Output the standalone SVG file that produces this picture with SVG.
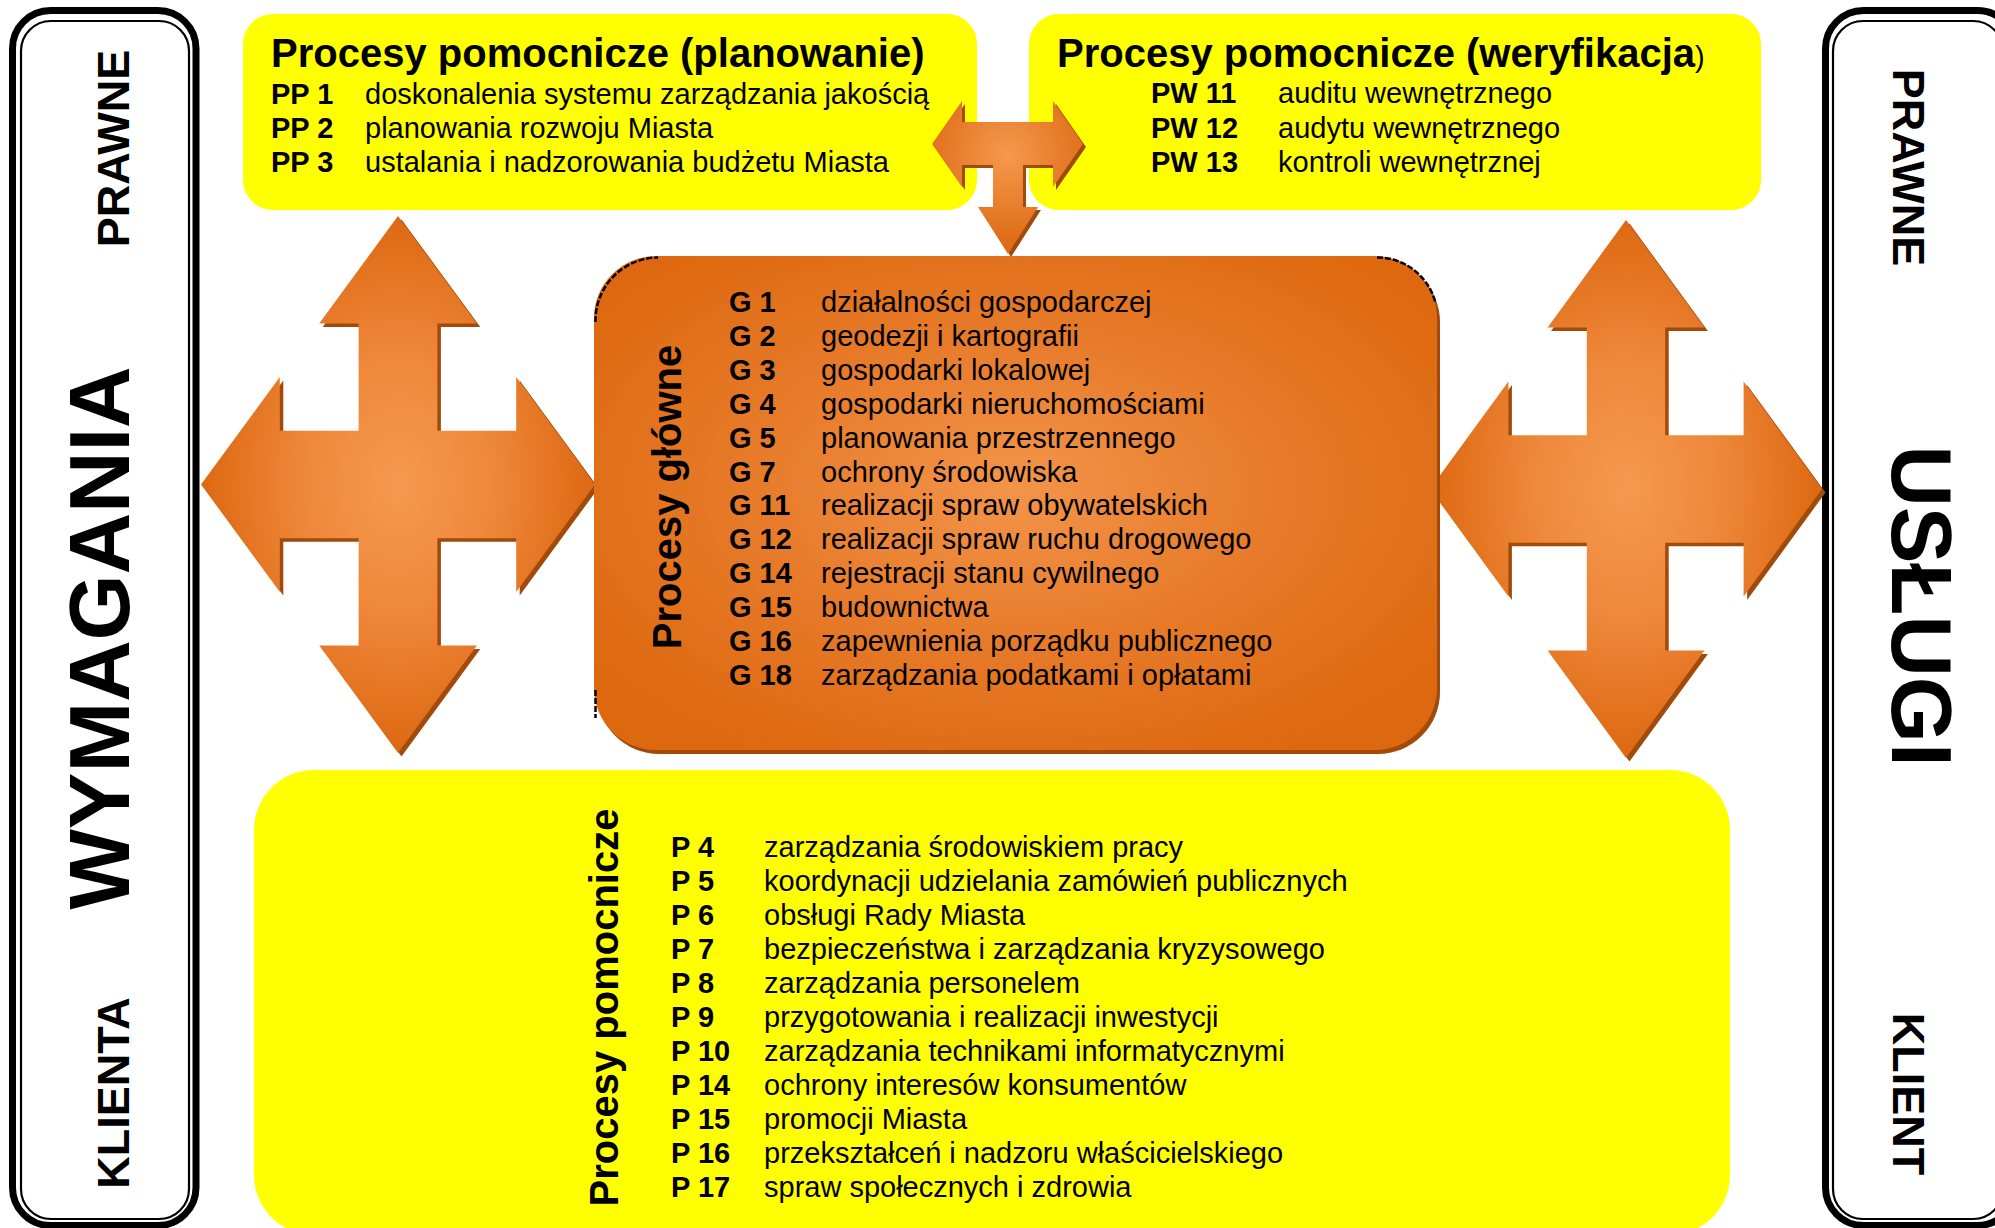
<svg xmlns="http://www.w3.org/2000/svg" xmlns:xlink="http://www.w3.org/1999/xlink" width="1995" height="1228" viewBox="0 0 1995 1228">
<style>
  text { font-family: "Liberation Sans", Arial, sans-serif; fill: #000; }
  .title { font-size: 40px; font-weight: bold; }
  .code { font-size: 29px; font-weight: bold; }
  .item { font-size: 29px; }
  .vt { font-size: 40px; font-weight: bold; text-anchor: middle; }
  .side { font-size: 45px; font-weight: bold; text-anchor: middle; }
  .sideBig { font-size: 85px; font-weight: bold; text-anchor: middle; }
  .yellow { fill: #FFFF00; }
  .shadow { fill: #A04A0C; }
  .frameOuter { fill: #FFFFFF; stroke: #000; stroke-width: 7; }
  .frameInner { fill: none; stroke: #000; stroke-width: 2.2; }
  .artifact { fill: none; stroke: #000; stroke-width: 2.5; stroke-dasharray: 6 2; }
</style>
<defs>
  <radialGradient id="gArrow" cx="0.5" cy="0.5" r="0.5">
    <stop offset="0" stop-color="#F5994E"/>
    <stop offset="0.5" stop-color="#EE8739"/>
    <stop offset="1" stop-color="#DD6811"/>
  </radialGradient>
  <radialGradient id="gBox" cx="0.5" cy="0.47" r="0.62">
    <stop offset="0" stop-color="#F39449"/>
    <stop offset="0.5" stop-color="#E77B2A"/>
    <stop offset="1" stop-color="#DD680F"/>
  </radialGradient>
  <radialGradient id="gT" cx="0.5" cy="0.35" r="0.6">
    <stop offset="0" stop-color="#F5994E"/>
    <stop offset="1" stop-color="#DE6A14"/>
  </radialGradient>
  <polygon id="quad" points="0.5,0 0.7,0.2 0.6,0.2 0.6,0.4 0.8,0.4 0.8,0.3 1,0.5 0.8,0.7 0.8,0.6 0.6,0.6 0.6,0.8 0.7,0.8 0.5,1 0.3,0.8 0.4,0.8 0.4,0.6 0.2,0.6 0.2,0.7 0,0.5 0.2,0.3 0.2,0.4 0.4,0.4 0.4,0.2 0.3,0.2"/>
  <polygon id="tshape" points="932,144 962,101 962,122 1053,122 1053,101 1083,144 1053,187 1053,165 1023,165 1023,207 1038,207 1008,254 978,207 993,207 993,165 962,165 962,187"/>
</defs>

<g id="frame-left">
  <rect class="frameOuter" x="12.5" y="10.5" width="183.5" height="1215" rx="38"/>
  <rect class="frameInner" x="21" y="21" width="168" height="1198" rx="30"/>
  <text class="side" transform="translate(129,148.5) rotate(-90)">PRAWNE</text>
  <text class="sideBig" transform="translate(129,638) rotate(-90)">WYMAGANIA</text>
  <text class="side" transform="translate(129,1093) rotate(-90)">KLIENTA</text>
</g>

<g id="frame-right">
  <rect class="frameOuter" x="1825.5" y="10.5" width="190" height="1215" rx="38"/>
  <rect class="frameInner" x="1833" y="21" width="170" height="1198" rx="30"/>
  <text class="side" transform="translate(1893,167.5) rotate(90)">PRAWNE</text>
  <text class="sideBig" transform="translate(1892,606) rotate(90)">USŁUGI</text>
  <text class="side" transform="translate(1893,1094) rotate(90)">KLIENT</text>
</g>

<g id="box-planowanie">
  <rect class="yellow" x="243" y="14" width="734" height="196" rx="30"/>
  <text class="title" x="271" y="67">Procesy pomocnicze (planowanie)</text>
  <text class="code" x="271" y="104">PP 1</text><text class="item" x="365" y="104">doskonalenia systemu zarządzania jakością</text>
  <text class="code" x="271" y="138">PP 2</text><text class="item" x="365" y="138">planowania rozwoju Miasta</text>
  <text class="code" x="271" y="172">PP 3</text><text class="item" x="365" y="172">ustalania i nadzorowania budżetu Miasta</text>
</g>

<g id="box-weryfikacja">
  <rect class="yellow" x="1029" y="14" width="732" height="196" rx="30"/>
  <text class="title" x="1057" y="67">Procesy pomocnicze (weryfikacja<tspan font-size="29" font-weight="normal">)</tspan></text>
  <text class="code" x="1151" y="103">PW 11</text><text class="item" x="1278" y="103">auditu wewnętrznego</text>
  <text class="code" x="1151" y="138">PW 12</text><text class="item" x="1278" y="138">audytu wewnętrznego</text>
  <text class="code" x="1151" y="172">PW 13</text><text class="item" x="1278" y="172">kontroli wewnętrznej</text>
</g>

<g id="box-pomocnicze">
  <rect class="yellow" x="254" y="770" width="1476" height="465" rx="60"/>
  <text class="vt" transform="translate(618,1007.5) rotate(-90)">Procesy pomocnicze</text>
  <g>
    <text class="code" x="671" y="857">P 4</text><text class="item" x="764" y="857">zarządzania środowiskiem pracy</text>
    <text class="code" x="671" y="891">P 5</text><text class="item" x="764" y="891">koordynacji udzielania zamówień publicznych</text>
    <text class="code" x="671" y="925">P 6</text><text class="item" x="764" y="925">obsługi Rady Miasta</text>
    <text class="code" x="671" y="959">P 7</text><text class="item" x="764" y="959">bezpieczeństwa i zarządzania kryzysowego</text>
    <text class="code" x="671" y="993">P 8</text><text class="item" x="764" y="993">zarządzania personelem</text>
    <text class="code" x="671" y="1027">P 9</text><text class="item" x="764" y="1027">przygotowania i realizacji inwestycji</text>
    <text class="code" x="671" y="1061">P 10</text><text class="item" x="764" y="1061">zarządzania technikami informatycznymi</text>
    <text class="code" x="671" y="1095">P 14</text><text class="item" x="764" y="1095">ochrony interesów konsumentów</text>
    <text class="code" x="671" y="1129">P 15</text><text class="item" x="764" y="1129">promocji Miasta</text>
    <text class="code" x="671" y="1163">P 16</text><text class="item" x="764" y="1163">przekształceń i nadzoru właścicielskiego</text>
    <text class="code" x="671" y="1197">P 17</text><text class="item" x="764" y="1197">spraw społecznych i zdrowia</text>
  </g>
</g>

<g id="connectors">
  <g id="arrow-top">
    <use xlink:href="#tshape" class="shadow" transform="translate(3,3)"/>
    <use xlink:href="#tshape" fill="url(#gT)"/>
  </g>
  <g id="arrow-left">
    <use xlink:href="#quad" class="shadow" transform="translate(204.5,219.5) scale(394,537)"/>
    <use xlink:href="#quad" fill="url(#gArrow)" transform="translate(201,216) scale(394,537)"/>
  </g>
  <g id="arrow-right">
    <use xlink:href="#quad" class="shadow" transform="translate(1433.5,223.5) scale(392,538)"/>
    <use xlink:href="#quad" fill="url(#gArrow)" transform="translate(1430,220) scale(392,538)"/>
  </g>
</g>

<g id="box-glowne">
  <rect class="shadow" x="597" y="260" width="843" height="494" rx="62"/>
  <rect x="594" y="256" width="843" height="494" rx="62" fill="url(#gBox)"/>
  <path class="artifact" d="M595.5,322 A63,63 0 0 1 658,257.5"/>
  <path class="artifact" d="M1377,257.5 A60,60 0 0 1 1435.5,303"/>
  <path class="artifact" d="M595.5,690 L595.5,718"/>
  <text class="vt" transform="translate(681,497) rotate(-90)">Procesy główne</text>
  <g>
    <text class="code" x="729" y="312">G 1</text><text class="item" x="821" y="312">działalności gospodarczej</text>
    <text class="code" x="729" y="346">G 2</text><text class="item" x="821" y="346">geodezji i kartografii</text>
    <text class="code" x="729" y="380">G 3</text><text class="item" x="821" y="380">gospodarki lokalowej</text>
    <text class="code" x="729" y="414">G 4</text><text class="item" x="821" y="414">gospodarki nieruchomościami</text>
    <text class="code" x="729" y="448">G 5</text><text class="item" x="821" y="448">planowania przestrzennego</text>
    <text class="code" x="729" y="482">G 7</text><text class="item" x="821" y="482">ochrony środowiska</text>
    <text class="code" x="729" y="515">G 11</text><text class="item" x="821" y="515">realizacji spraw obywatelskich</text>
    <text class="code" x="729" y="549">G 12</text><text class="item" x="821" y="549">realizacji spraw ruchu drogowego</text>
    <text class="code" x="729" y="583">G 14</text><text class="item" x="821" y="583">rejestracji stanu cywilnego</text>
    <text class="code" x="729" y="617">G 15</text><text class="item" x="821" y="617">budownictwa</text>
    <text class="code" x="729" y="651">G 16</text><text class="item" x="821" y="651">zapewnienia porządku publicznego</text>
    <text class="code" x="729" y="685">G 18</text><text class="item" x="821" y="685">zarządzania podatkami i opłatami</text>
  </g>
</g>
</svg>
